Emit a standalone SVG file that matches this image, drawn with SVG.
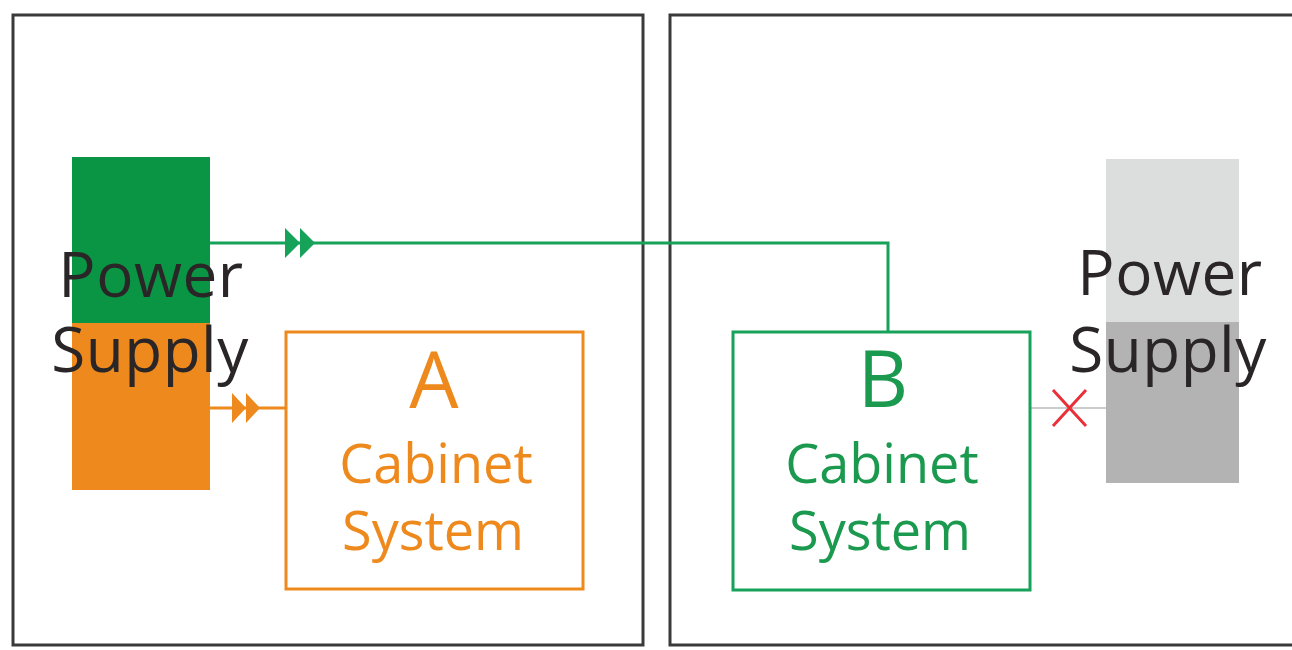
<svg xmlns="http://www.w3.org/2000/svg" width="1292" height="650" viewBox="0 0 1292 650">
<style>
.frame{fill:none;stroke:#3a3a3a;stroke-width:3}
.ps{font-family:"Open Sans","Noto Sans",sans-serif;font-size:62px;letter-spacing:0.5px;fill:#2a2627;text-anchor:middle}
.big{font-family:"Open Sans","Noto Sans",sans-serif;font-size:78px;text-anchor:middle}
.lbl{font-family:"Open Sans","Noto Sans",sans-serif;font-size:54px;text-anchor:middle}
.og{stroke:#ee8a1d;fill:none;stroke-width:3}
.gn{stroke:#17a25a;fill:none;stroke-width:3}
</style>
<rect width="1292" height="650" fill="#ffffff"/>
<g id="frames">
<rect class="frame" x="13" y="15" width="630" height="630"/>
<rect class="frame" x="670" y="15" width="640" height="630"/>
</g>
<g id="connectors">
<polyline class="gn" points="210,243 888,243 888,332"/>
<polygon points="285,228 300,243 285,258" fill="#17a25a"/>
<polygon points="300,228 315,243 300,258" fill="#17a25a"/>
<line class="og" x1="210" y1="408" x2="286" y2="408"/>
<polygon points="232,393 246,408 232,423" fill="#ee8a1d"/>
<polygon points="246,393 260,408 246,423" fill="#ee8a1d"/>
<line x1="1030" y1="408" x2="1106" y2="408" stroke="#cccccc" stroke-width="2"/>
<path d="M1053,390 L1086,426 M1086,390 L1053,426" stroke="#e8303a" stroke-width="3" fill="none"/>
</g>
<g id="power-left">
<rect x="72" y="157" width="138" height="166" fill="#0a9544"/>
<rect x="72" y="323" width="138" height="167" fill="#ee8a1d"/>
<text class="ps" x="151" y="297">Power</text>
<text class="ps" x="150" y="372">Supply</text>
</g>
<g id="cabinet-a">
<rect class="og" x="286" y="332" width="297" height="257"/>
<text class="big" x="434" y="408" fill="#ee8a1d">A</text>
<text class="lbl" x="436" y="483" fill="#ee8a1d">Cabinet</text>
<text class="lbl" x="433" y="550" fill="#ee8a1d">System</text>
</g>
<g id="cabinet-b">
<rect class="gn" x="733" y="332" width="297" height="258"/>
<text class="big" x="883" y="407" fill="#1b9a4f">B</text>
<text class="lbl" x="882" y="483" fill="#1b9a4f">Cabinet</text>
<text class="lbl" x="880" y="550" fill="#1b9a4f">System</text>
</g>
<g id="power-right">
<rect x="1106" y="159" width="133" height="163" fill="#dcdddd"/>
<rect x="1106" y="322" width="133" height="161" fill="#b3b3b3"/>
<text class="ps" x="1170" y="295">Power</text>
<text class="ps" x="1168" y="372">Supply</text>
</g>
</svg>
